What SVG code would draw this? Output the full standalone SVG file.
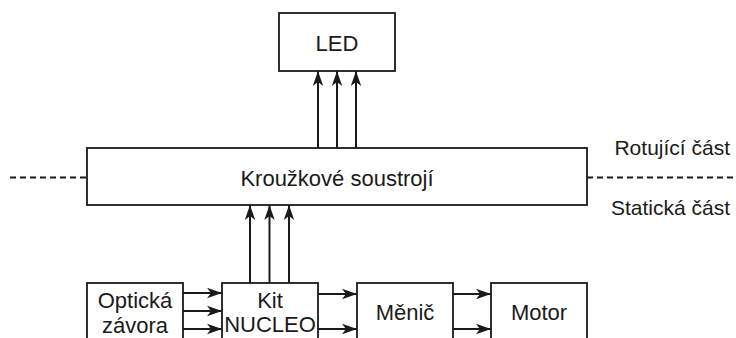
<svg xmlns="http://www.w3.org/2000/svg" width="736" height="338" viewBox="0 0 736 338">
<style>
.box{fill:#ffffff;stroke:#1a1a1a;stroke-width:1.8}
.t{font-family:"Liberation Sans",Arial,sans-serif;font-size:22px;fill:#1a1a1a;text-anchor:middle}
.lbl{font-family:"Liberation Sans",Arial,sans-serif;font-size:21px;fill:#1a1a1a;text-anchor:end}
.c{fill:none;stroke:#1a1a1a;stroke-width:2}
.d{fill:none;stroke:#1a1a1a;stroke-width:1.8;stroke-dasharray:6 4}
</style>
<defs>
<marker id="a" markerUnits="userSpaceOnUse" markerWidth="16" markerHeight="12" viewBox="0 0 16 12" refX="15" refY="6" orient="auto">
<path d="M0,0.8 L15,6 L0,11.2 L4,6 Z" fill="#1a1a1a"/>
</marker>
</defs>
<g id="dividers">
<line class="d" x1="10" y1="177.5" x2="87" y2="177.5"/>
<line class="d" x1="587" y1="177.5" x2="736" y2="177.5"/>
</g>
<g id="connectors">
<line class="c" x1="318" y1="148" x2="318" y2="71" marker-end="url(#a)"/>
<line class="c" x1="337" y1="148" x2="337" y2="71" marker-end="url(#a)"/>
<line class="c" x1="356" y1="148" x2="356" y2="71" marker-end="url(#a)"/>
<line class="c" x1="250" y1="283" x2="250" y2="205" marker-end="url(#a)"/>
<line class="c" x1="269.5" y1="283" x2="269.5" y2="205" marker-end="url(#a)"/>
<line class="c" x1="289" y1="283" x2="289" y2="205" marker-end="url(#a)"/>
<line class="c" x1="183" y1="293" x2="222" y2="293" marker-end="url(#a)"/>
<line class="c" x1="183" y1="311" x2="222" y2="311" marker-end="url(#a)"/>
<line class="c" x1="183" y1="329" x2="222" y2="329" marker-end="url(#a)"/>
<line class="c" x1="318" y1="294" x2="357" y2="294" marker-end="url(#a)"/>
<line class="c" x1="318" y1="329" x2="357" y2="329" marker-end="url(#a)"/>
<line class="c" x1="453" y1="294" x2="491" y2="294" marker-end="url(#a)"/>
<line class="c" x1="453" y1="329" x2="491" y2="329" marker-end="url(#a)"/>
</g>
<g id="led">
<rect class="box" x="279" y="13" width="116" height="58"/>
<text class="t" x="337" y="51">LED</text>
</g>
<g id="krouzkove">
<rect class="box" x="87" y="148" width="500" height="57"/>
<text class="t" x="337" y="186">Kroužkové soustrojí</text>
</g>
<g id="labels">
<text class="lbl" x="730" y="155">Rotující část</text>
<text class="lbl" x="730" y="215">Statická část</text>
</g>
<g id="opticka">
<rect class="box" x="87" y="283" width="96" height="62"/>
<text class="t" x="135" y="308">Optická</text>
<text class="t" x="135" y="333">závora</text>
</g>
<g id="kit">
<rect class="box" x="222" y="283" width="96" height="62"/>
<text class="t" x="270" y="308">Kit</text>
<text class="t" x="270" y="332">NUCLEO</text>
</g>
<g id="menic">
<rect class="box" x="357" y="283" width="96" height="62"/>
<text class="t" x="405" y="320">Měnič</text>
</g>
<g id="motor">
<rect class="box" x="491" y="283" width="96" height="62"/>
<text class="t" x="539" y="320">Motor</text>
</g>
</svg>
